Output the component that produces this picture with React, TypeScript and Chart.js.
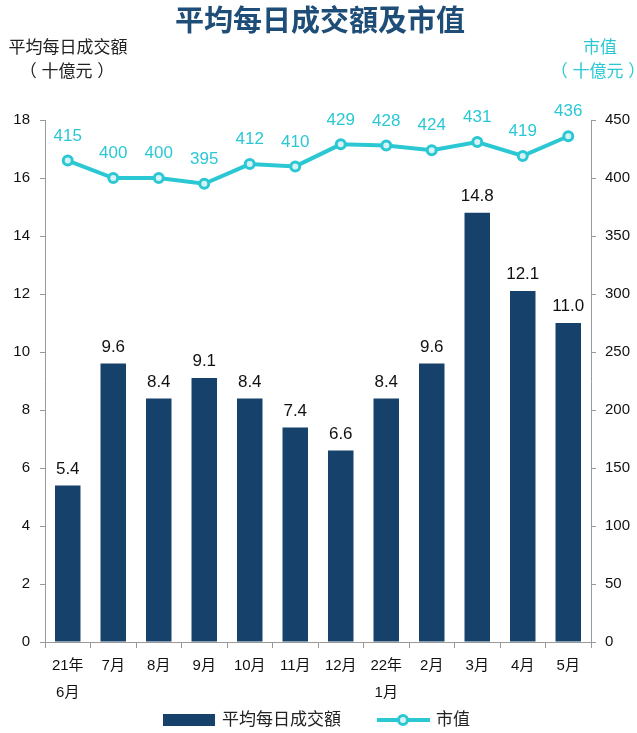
import React, { useEffect, useRef } from "react";
import { Chart, registerables } from "chart.js";

Chart.register(...registerables);

const categories: (string | string[])[] = [
  ["21年", "6月"], "7月", "8月", "9月", "10月", "11月", "12月", ["22年", "1月"], "2月", "3月", "4月", "5月",
];
const turnover = [5.4, 9.6, 8.4, 9.1, 8.4, 7.4, 6.6, 8.4, 9.6, 14.8, 12.1, 11.0];
const marketCap = [415, 400, 400, 395, 412, 410, 429, 428, 424, 431, 419, 436];

const TITLE = "平均每日成交額及市值";
const LEFT_TITLE = ["平均每日成交額", "（ 十億元 ）"];
const RIGHT_TITLE = ["市值", "（ 十億元 ）"];
const LEGEND_BAR = "平均每日成交額";
const LEGEND_LINE = "市值";

const BAR_COLOR = "#15416A";
const LINE_COLOR = "#2BC8D4";
const TITLE_COLOR = "#1E4D77";
const FONT = "'Liberation Sans', 'Noto Sans CJK TC', sans-serif";

const textPlugin = {
  id: "textPlugin",
  afterDraw(chart: any) {
    const ctx = chart.ctx as CanvasRenderingContext2D;
    ctx.save();
    // title
    ctx.fillStyle = TITLE_COLOR;
    ctx.font = `bold 29px ${FONT}`;
    ctx.textAlign = "center";
    ctx.textBaseline = "middle";
    ctx.fillText(TITLE, 320, 23);
    // axis titles
    ctx.font = `17px ${FONT}`;
    ctx.fillStyle = "#222";
    ctx.fillText(LEFT_TITLE[0], 68, 48);
    ctx.fillText(LEFT_TITLE[1], 67, 72);
    ctx.fillStyle = LINE_COLOR;
    ctx.fillText(RIGHT_TITLE[0], 600, 48);
    ctx.fillText(RIGHT_TITLE[1], 598, 72);

    // data labels
    ctx.font = `17px ${FONT}`;
    const barMeta = chart.getDatasetMeta(0);
    ctx.fillStyle = "#111";
    ctx.textBaseline = "bottom";
    barMeta.data.forEach((el: any, i: number) => {
      ctx.fillText(turnover[i].toFixed(1), el.x, el.y - 8);
    });
    const lineMeta = chart.getDatasetMeta(1);
    ctx.fillStyle = LINE_COLOR;
    lineMeta.data.forEach((el: any, i: number) => {
      ctx.fillText(String(marketCap[i]), el.x, el.y - 16);
    });

    // legend
    const ly = 720;
    ctx.fillStyle = BAR_COLOR;
    ctx.fillRect(163, ly - 6, 52, 12);
    ctx.fillStyle = "#222";
    ctx.textAlign = "left";
    ctx.textBaseline = "middle";
    ctx.font = `17px ${FONT}`;
    ctx.fillText(LEGEND_BAR, 222, ly);
    ctx.strokeStyle = LINE_COLOR;
    ctx.lineWidth = 4;
    ctx.beginPath();
    ctx.moveTo(377, ly);
    ctx.lineTo(430, ly);
    ctx.stroke();
    ctx.beginPath();
    ctx.arc(403, ly, 4.5, 0, Math.PI * 2);
    ctx.fillStyle = "#D7F3F6";
    ctx.fill();
    ctx.lineWidth = 3;
    ctx.stroke();
    ctx.fillStyle = "#222";
    ctx.fillText(LEGEND_LINE, 436, ly);
    ctx.restore();
  },
};

export default function App() {
  const ref = useRef<HTMLCanvasElement>(null);
  useEffect(() => {
    document.body.style.margin = "0";
    const chart = new Chart(ref.current!, {
      type: "bar",
      data: {
        labels: categories as any,
        datasets: [
          {
            type: "bar",
            label: LEGEND_BAR,
            data: turnover,
            backgroundColor: BAR_COLOR,
            yAxisID: "y",
            categoryPercentage: 1,
            barPercentage: 0.56,
            order: 2,
          },
          {
            type: "line",
            label: LEGEND_LINE,
            data: marketCap,
            borderColor: LINE_COLOR,
            backgroundColor: "#D7F3F6",
            borderWidth: 4,
            pointRadius: 4.5,
            pointBorderWidth: 3,
            pointBorderColor: LINE_COLOR,
            pointBackgroundColor: "#D7F3F6",
            yAxisID: "y1",
            tension: 0,
            order: 1,
          } as any,
        ],
      },
      options: {
        animation: false,
        responsive: false,
        maintainAspectRatio: false,
        layout: { padding: { top: 120, bottom: 31, left: 0, right: 0 } },
        plugins: {
          legend: { display: false },
          title: { display: false },
          tooltip: { enabled: false },
        },
        scales: {
          x: {
            offset: true,
            grid: { drawOnChartArea: false, drawTicks: true, tickLength: 6, color: "#999", offset: true },
            border: { display: true, color: "#999" },
            ticks: {
              color: "#111",
              font: { family: FONT, size: 15, lineHeight: 1.8 },
              padding: 4,
              maxRotation: 0,
              autoSkip: false,
            },
            afterFit(scale: any) {
              scale.height = 60;
            },
          },
          y: {
            position: "left",
            min: 0,
            max: 18,
            ticks: { stepSize: 2, color: "#111", font: { family: FONT, size: 15 }, padding: 10 },
            grid: { drawOnChartArea: false, drawTicks: true, tickLength: 5, color: "#999" },
            border: { display: true, color: "#999" },
            afterFit(scale: any) {
              scale.width = 45;
            },
          },
          y1: {
            position: "right",
            min: 0,
            max: 450,
            ticks: { stepSize: 50, color: "#111", font: { family: FONT, size: 15 }, padding: 9 },
            grid: { drawOnChartArea: false, drawTicks: true, tickLength: 5, color: "#999" },
            border: { display: true, color: "#999" },
            afterFit(scale: any) {
              scale.width = 46;
            },
          },
        },
      },
      plugins: [textPlugin],
    });
    return () => chart.destroy();
  }, []);
  return (
    <div style={{ width: 637, height: 733 }}>
      <canvas ref={ref} width={637} height={733} style={{ display: "block" }} />
    </div>
  );
}
